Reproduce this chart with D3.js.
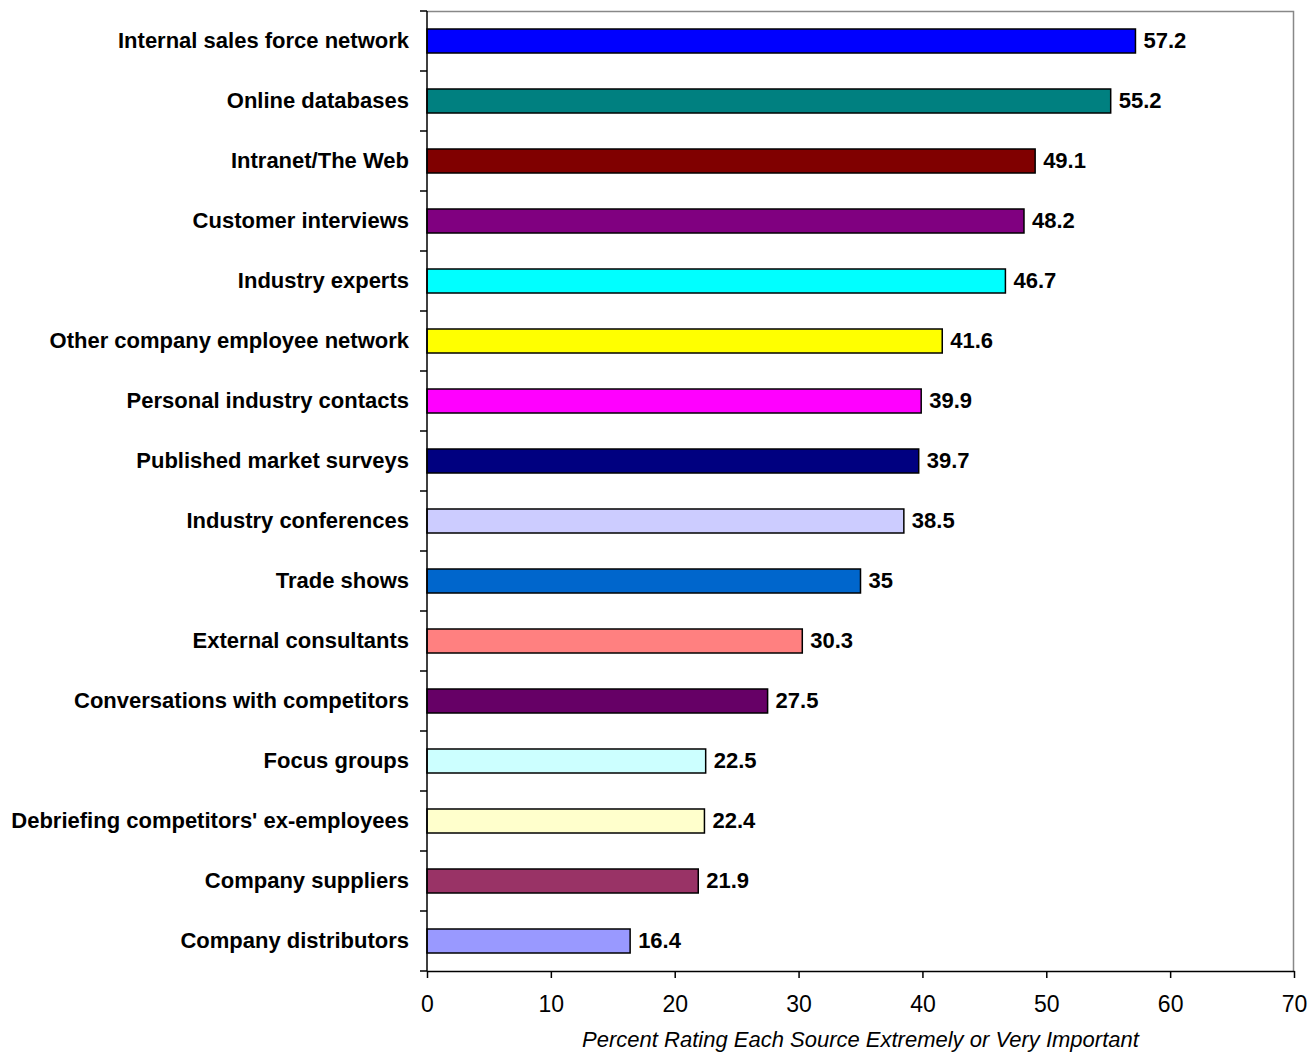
<!DOCTYPE html>
<html>
<head>
<meta charset="utf-8">
<script src="https://cdn.jsdelivr.net/npm/d3@7"></script>
<style>
  html, body { margin: 0; padding: 0; background: #fff; }
  svg { display: block; }
  text { font-family: "Liberation Sans", Arial, sans-serif; }
</style>
</head>
<body>
<svg id="chart" width="1314" height="1053"></svg>
<script>
// Sources of competitive intelligence, top to bottom
const categories = [
  "Internal sales force network",
  "Online databases",
  "Intranet/The Web",
  "Customer interviews",
  "Industry experts",
  "Other company employee network",
  "Personal industry contacts",
  "Published market surveys",
  "Industry conferences",
  "Trade shows",
  "External consultants",
  "Conversations with competitors",
  "Focus groups",
  "Debriefing competitors' ex-employees",
  "Company suppliers",
  "Company distributors"
];
const values = [57.2, 55.2, 49.1, 48.2, 46.7, 41.6, 39.9, 39.7, 38.5, 35, 30.3, 27.5, 22.5, 22.4, 21.9, 16.4];
const barColors = [
  "#0000FF", "#008080", "#800000", "#800080", "#00FFFF", "#FFFF00",
  "#FF00FF", "#000080", "#CCCCFF", "#0066CC", "#FF8080", "#660066",
  "#CCFFFF", "#FFFFCC", "#993366", "#9999FF"
];
const xTicks = [0, 10, 20, 30, 40, 50, 60, 70];
const xTitle = "Percent Rating Each Source Extremely or Very Important";

const svg = d3.select("#chart");
const plot = { left: 427, right: 1294, top: 11, bottom: 971 };

const x = d3.scaleLinear().domain([0, 70]).range([plot.left, plot.right]);
const y = d3.scaleBand().domain(categories).range([plot.top, plot.bottom]).paddingInner(0.6).paddingOuter(0.3);

// Plot frame (top and right edges)
svg.append("path")
  .attr("d", `M${plot.left},${plot.top + 0.5}H${plot.right - 0.5}V${plot.bottom}`)
  .attr("fill", "none")
  .attr("stroke", "#888")
  .attr("stroke-width", 1.5);

// Bars
svg.append("g").selectAll("rect")
  .data(categories)
  .join("rect")
  .attr("x", x(0))
  .attr("y", d => y(d))
  .attr("width", (d, i) => x(values[i]) - x(0))
  .attr("height", y.bandwidth())
  .attr("fill", (d, i) => barColors[i])
  .attr("stroke", "#000")
  .attr("stroke-width", 1.5);

// Value labels
svg.append("g").selectAll("text")
  .data(categories)
  .join("text")
  .attr("x", (d, i) => x(values[i]) + 8)
  .attr("y", d => y(d) + y.bandwidth() / 2)
  .attr("dy", "0.33em")
  .attr("font-size", 22)
  .attr("font-weight", "bold")
  .attr("fill", "#000")
  .text((d, i) => values[i]);

// Category labels
svg.append("g").selectAll("text")
  .data(categories)
  .join("text")
  .attr("x", plot.left - 18)
  .attr("y", d => y(d) + y.bandwidth() / 2)
  .attr("dy", "0.33em")
  .attr("text-anchor", "end")
  .attr("font-size", 22)
  .attr("font-weight", "bold")
  .attr("fill", "#000")
  .text(d => d);

// Y axis: vertical line with ticks at category boundaries
const yAxis = svg.append("g");
yAxis.append("line")
  .attr("x1", plot.left).attr("x2", plot.left)
  .attr("y1", plot.top).attr("y2", plot.bottom)
  .attr("stroke", "#000").attr("stroke-width", 1.5);
const boundaries = d3.range(categories.length + 1).map(i => plot.top + i * (plot.bottom - plot.top) / categories.length);
yAxis.selectAll("line.tick")
  .data(boundaries)
  .join("line")
  .attr("class", "tick")
  .attr("x1", plot.left - 7).attr("x2", plot.left)
  .attr("y1", d => d).attr("y2", d => d)
  .attr("stroke", "#000").attr("stroke-width", 1.5);

// X axis
const xAxis = svg.append("g")
  .attr("transform", `translate(0,${plot.bottom})`)
  .call(d3.axisBottom(x).tickValues(xTicks).tickSize(7).tickSizeOuter(0).tickPadding(18));
xAxis.select(".domain").attr("stroke", "#000").attr("stroke-width", 1.5);
xAxis.selectAll(".tick line").attr("stroke", "#000").attr("stroke-width", 1.5);
xAxis.selectAll(".tick text")
  .attr("font-size", 23)
  .attr("font-family", "Liberation Sans, Arial, sans-serif")
  .attr("fill", "#000");

// X axis title
svg.append("text")
  .attr("x", (plot.left + plot.right) / 2)
  .attr("y", 1047)
  .attr("text-anchor", "middle")
  .attr("font-size", 22)
  .attr("font-style", "italic")
  .attr("fill", "#000")
  .text(xTitle);
</script>
</body>
</html>
